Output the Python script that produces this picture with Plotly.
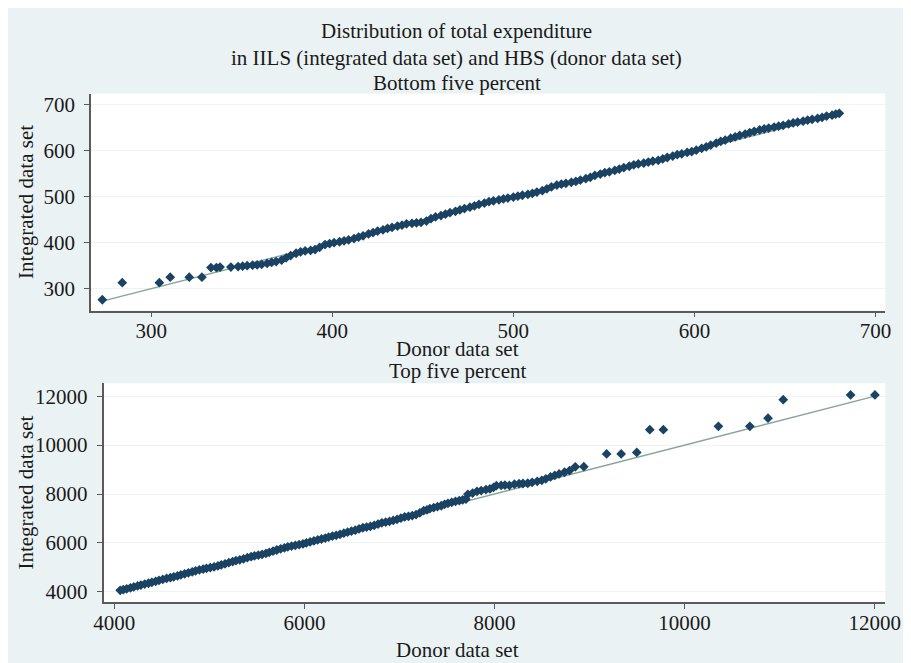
import plotly.graph_objects as go

# ---------------- data ----------------
# Bottom five percent: quantiles of donor (HBS) vs integrated (IILS)
bottom_donor = [
    273, 284, 304.5, 310.5, 321, 328, 333, 336, 338, 344,
    348, 350.5, 353, 356, 358.5, 361, 364, 366.5, 369, 372,
    374.5, 377, 380, 382.5, 385, 388, 390.5, 393, 396, 398.5,
    401, 404, 406.5, 409, 412, 414.5, 417, 420, 422.5, 425,
    428, 430.5, 433, 436, 438.5, 441, 444, 446.5, 449, 452,
    454.5, 457, 460, 462.5, 465, 468, 470.5, 473, 476, 478.5,
    481, 484, 486.5, 489, 492, 494.5, 497, 500, 502.5, 505,
    508, 510.5, 513, 516, 518.5, 521, 524, 526.5, 529, 532,
    534.5, 537, 540, 542.5, 545, 548, 550.5, 553, 556, 558.5,
    561, 564, 566.5, 569, 572, 574.5, 577, 580, 582.5, 585,
    588, 590.5, 593, 596, 598.5, 601, 604, 606.5, 609, 612,
    614.5, 617, 620, 622.5, 625, 628, 630.5, 633, 636, 638.5,
    641, 644, 646.5, 649, 652, 654.5, 657, 660, 662.5, 665,
    668, 670.5, 673, 676, 678, 680,
]
bottom_integrated = [
    276, 313, 313, 325, 325, 325, 346, 346, 347, 347,
    348, 349, 350, 351, 352, 353, 355, 357, 359, 362,
    367, 372, 377, 380, 382, 383, 385, 390, 396, 398,
    400, 402, 404, 406, 409, 412, 415, 419, 422, 425,
    428, 431, 433, 436, 438, 441, 442, 443, 444, 447,
    452, 456, 459, 462, 465, 468, 471, 474, 477, 480,
    483, 486, 489, 491, 493, 495, 497, 499, 501, 503,
    505, 507, 510, 513, 517, 521, 525, 527, 529, 531,
    533, 536, 539, 542, 546, 549, 552, 554, 557, 560,
    563, 566, 569, 571, 573, 575, 577, 579, 582, 585,
    588, 591, 593, 596, 598, 601, 605, 608, 612, 616,
    620, 623, 627, 630, 633, 636, 639, 642, 645, 647,
    649, 651, 653, 655, 658, 660, 662, 664, 666, 668,
    670, 672, 675, 677, 679, 681,
]

# Top five percent
top_donor = [
    4062, 4095, 4130, 4170, 4205, 4245, 4280, 4320, 4360, 4395,
    4435, 4470, 4510, 4550, 4590, 4625, 4665, 4700, 4740, 4780,
    4820, 4855, 4895, 4935, 4970, 5010, 5050, 5090, 5125, 5165,
    5205, 5245, 5280, 5320, 5360, 5400, 5440, 5475, 5515, 5555,
    5595, 5630, 5670, 5710, 5750, 5790, 5825, 5865, 5905, 5945,
    5985, 6020, 6060, 6100, 6140, 6180, 6220, 6255, 6295, 6335,
    6375, 6415, 6455, 6495, 6535, 6575, 6615, 6655, 6695, 6735,
    6775, 6815, 6855, 6895, 6935, 6975, 7015, 7055, 7095, 7135,
    7175, 7215, 7255, 7290, 7320, 7360, 7400, 7440, 7475, 7510,
    7550, 7590, 7630, 7665, 7700, 7720, 7770, 7816, 7860, 7910,
    7952, 7990, 8020, 8070, 8110, 8157, 8210, 8259, 8300, 8350,
    8396, 8450, 8498, 8540, 8590, 8634, 8680, 8737, 8790, 8850,
    8940, 9180, 9333, 9497, 9634, 9777, 10356, 10687, 10878, 11038,
    11747, 12003,
]
top_integrated = [
    4060, 4090, 4120, 4165, 4200, 4240, 4275, 4315, 4350, 4390,
    4430, 4465, 4505, 4545, 4580, 4615, 4655, 4690, 4735, 4775,
    4820, 4860, 4900, 4930, 4960, 4990, 5020, 5060, 5100, 5145,
    5190, 5235, 5275, 5310, 5350, 5395, 5440, 5470, 5500, 5530,
    5570, 5610, 5660, 5710, 5760, 5800, 5840, 5870, 5900, 5930,
    5960, 6000, 6040, 6080, 6120, 6160, 6200, 6240, 6280, 6310,
    6350, 6400, 6440, 6480, 6520, 6570, 6620, 6650, 6680, 6720,
    6770, 6820, 6850, 6880, 6920, 6960, 7010, 7060, 7090, 7120,
    7160, 7230, 7320, 7350, 7400, 7440, 7480, 7520, 7580, 7620,
    7660, 7700, 7730, 7760, 7790, 7990, 8040, 8110, 8140, 8180,
    8210, 8270, 8340, 8350, 8360, 8350, 8400, 8420, 8430, 8440,
    8480, 8520, 8560, 8620, 8700, 8760, 8820, 8890, 8960, 9110,
    9120, 9640, 9640, 9700, 10630, 10630, 10770, 10770, 11100, 11860,
    12050, 12050,
]

bottom_xticks = [300, 400, 500, 600, 700]
bottom_yticks = [300, 400, 500, 600, 700]
top_xticks = [4000, 6000, 8000, 10000, 12000]
top_yticks = [4000, 6000, 8000, 10000, 12000]

title_lines = [
    "Distribution of total expenditure",
    "in IILS (integrated data set) and HBS (donor data set)",
]
panel_titles = ["Bottom five percent", "Top five percent"]
x_title = "Donor data set"
y_title = "Integrated data set"

# ---------------- style ----------------
# the page has an 8px body margin; figure drawn in the remaining area
OFF = 8
W, H = 911 - OFF, 663 - OFF
FONT = "Liberation Serif, Times New Roman, serif"
FS = 21
NAVY = "#1a4262"
LINE = "#86a596"
AXIS = "#5a5a5a"
BG = "#eaf2f3"
GRID = "#eef3f3"


def px_x(p):
    return (p - OFF) / W


def px_y(p):
    return 1 - (p - OFF) / H


fig = go.Figure()

# panel 1 (bottom five percent)
fig.add_trace(go.Scatter(
    x=[min(bottom_donor), max(bottom_donor)],
    y=[min(bottom_donor), max(bottom_donor)],
    mode="lines", line=dict(color=LINE, width=1.4),
    xaxis="x", yaxis="y", showlegend=False, hoverinfo="skip"))
fig.add_trace(go.Scatter(
    x=bottom_donor, y=bottom_integrated, mode="markers",
    marker=dict(symbol="diamond", size=7.5, color=NAVY, line=dict(width=0)),
    xaxis="x", yaxis="y", showlegend=False))

# panel 2 (top five percent)
fig.add_trace(go.Scatter(
    x=[min(top_donor), max(top_donor)],
    y=[min(top_donor), max(top_donor)],
    mode="lines", line=dict(color=LINE, width=1.4),
    xaxis="x2", yaxis="y2", showlegend=False, hoverinfo="skip"))
fig.add_trace(go.Scatter(
    x=top_donor, y=top_integrated, mode="markers",
    marker=dict(symbol="diamond", size=7.5, color=NAVY, line=dict(width=0)),
    xaxis="x2", yaxis="y2", showlegend=False))

axis_common = dict(
    showline=True, linecolor=AXIS, linewidth=1.5,
    ticks="outside", ticklen=5, tickcolor=AXIS, tickwidth=1.2,
    tickfont=dict(family=FONT, size=FS, color="#1a1a1a"),
    zeroline=False, tickformat="d",
)

fig.update_layout(
    width=W, height=H, autosize=False,
    margin=dict(l=0, r=0, t=0, b=0),
    paper_bgcolor=BG, plot_bgcolor="white",
    font=dict(family=FONT, size=FS, color="#1a1a1a"),
    xaxis=dict(domain=[px_x(83), px_x(900)], range=[266.7, 705.4],
               tickvals=bottom_xticks, showgrid=False, anchor="y",
               ticklabelstandoff=-5, **axis_common),
    yaxis=dict(domain=[px_y(311), px_y(93)], range=[252.4, 723.8],
               tickvals=bottom_yticks, showgrid=True, gridcolor=GRID,
               gridwidth=1, anchor="x", ticklabelstandoff=5, **axis_common),
    xaxis2=dict(domain=[px_x(96), px_x(900)], range=[3887, 12112],
                tickvals=top_xticks, showgrid=False, anchor="y2",
                ticklabelstandoff=-4, **axis_common),
    yaxis2=dict(domain=[px_y(604), px_y(384)], range=[3572, 12529],
                tickvals=top_yticks, showgrid=True, gridcolor=GRID,
                gridwidth=1, anchor="x2", ticklabelstandoff=5, **axis_common),
)


def text(s, x, y, angle=0):
    fig.add_annotation(text=s, x=px_x(x), y=px_y(y), xref="paper", yref="paper",
                       showarrow=False, textangle=angle, xanchor="center",
                       yanchor="middle",
                       font=dict(family=FONT, size=FS, color="#1a1a1a"))


text(title_lines[0], 459, 30)
text(title_lines[1], 459, 57)
text(panel_titles[0], 459, 82)
text(x_title, 460, 350)
text(panel_titles[1], 460, 372)
text(x_title, 460, 652)
text(y_title, 16, 202, -90)
text(y_title, 16, 494, -90)

fig.write_html("out.html")
